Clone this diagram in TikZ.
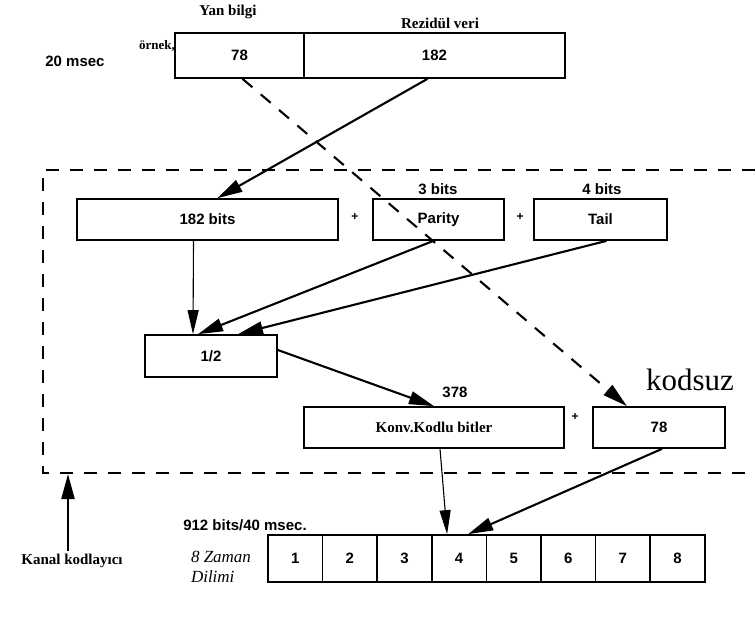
\documentclass[tikz,border=0pt]{standalone}
\usepackage{fontspec}
\setmainfont{Liberation Sans}
\newfontfamily\tms{Liberation Serif}
\usetikzlibrary{arrows.meta, positioning, calc}

\begin{document}
\begin{tikzpicture}[x=1pt, y=-1pt, font=\fontsize{15}{18}\selectfont\bfseries,
    blk/.style={draw, line width=1.7pt, minimum height=41pt, inner sep=0pt},
    tt/.style={font=\fontsize{15}{18}\selectfont\tms\bfseries},
    arr/.style={-{Triangle[length=25pt,width=13pt]}, line width=2.1pt},
    thinarr/.style={-{Triangle[length=24pt,width=11pt]}, line width=1.1pt},
    dashline/.style={dash pattern=on 13pt off 11pt, line width=2.1pt},
    plus/.style={font=\fontsize{12}{14}\selectfont\bfseries}]
  \useasboundingbox (0,0) rectangle (755,633);
  \node[blk, minimum width=129pt, minimum height=45pt] (yan) at (239.5,55.5) {78};
  \node[blk, minimum width=261pt, minimum height=45pt] (rez) at (434.5,55.5) {182};
  \node[tt] (yanlbl) at (228,12) {Yan bilgi};
  \node[tt] (rezlbl) at (440,23) {Rezidül veri};
  \node (msec) at (75,61) {20 msec};
  \node[tt, font=\fontsize{13}{15}\selectfont\tms\bfseries] (ornek) at (157,46) {örnek,};

  \draw[dashline] (755,170) -- (43,170) -- (43,473) -- (755,473);

  \node[blk, minimum width=261pt] (bits) at (207.5,219.5) {182 bits};
  \node[blk, minimum width=131pt] (parity) at (438.5,219.5) {Parity};
  \node[blk, minimum width=133pt] (tail) at (600.5,219.5) {Tail};
  \node (b3) at (438,189) {3 bits};
  \node (b4) at (602,189) {4 bits};
  \node[plus] (p1) at (355,217) {+};
  \node[plus] (p2) at (520,217) {+};

  \node[blk, minimum width=132pt, minimum height=42pt] (half) at (211,356) {1/2};
  \node[blk, minimum width=260pt, tt] (konv) at (434,427.5) {Konv.Kodlu bitler};
  \node[blk, minimum width=132pt] (unc) at (659,427.5) {78};
  \node (n378) at (455,392) {378};
  \node[plus] (p3) at (575,417) {+};
  \node[font=\fontsize{31}{34}\selectfont\tms] (kods) at (690,380) {kodsuz};

  \foreach \i in {1,...,8}
    \node[blk, minimum width=54.6pt, minimum height=47pt] (s\i) at ({268+(\i-0.5)*54.6},558.5) {\i};
  \node (rate) at (245,525) {912 bits/40 msec.};
  \node[font=\fontsize{17}{20}\selectfont\tms\itshape, align=left] (zaman) at (221,567) {8 Zaman\\Dilimi};
  \node[tt] (kanal) at (72,561) {Kanal kodlayıcı};
  \coordinate (kb) at (68,474);

  \draw[arr] ([xshift=-7pt]rez.south) -- ([xshift=10pt]bits.north);
  \draw[arr, dashline] ([xshift=3pt]yan.south) -- ([xshift=-32pt]unc.north);
  \draw[thinarr] ([xshift=-14pt]bits.south) -- ([xshift=-18pt]half.north);
  \draw[arr] ([xshift=-5pt]parity.south) -- ([xshift=-13pt]half.north);
  \draw[arr] ([xshift=6pt]tail.south) -- ([xshift=27pt]half.north);
  \draw[arr] ([yshift=6pt]half.east) -- (konv.north);
  \draw[thinarr] ([xshift=6pt]konv.south) -- ([xshift=-12pt]s4.north);
  \draw[arr] ([xshift=3pt]unc.south) -- ([xshift=9pt]s4.north);
  \draw[arr] (kanal.north -| kb) -- (kb);
\end{tikzpicture}
\end{document}
